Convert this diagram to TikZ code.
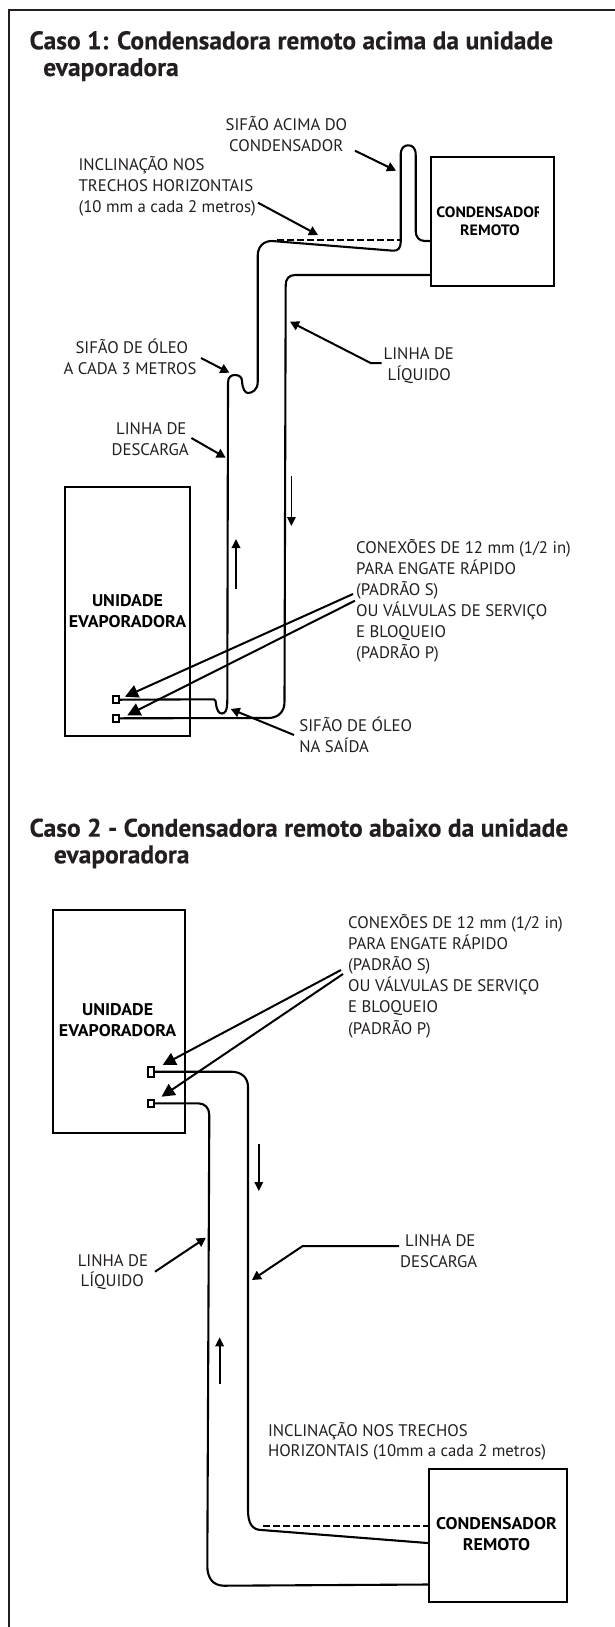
\documentclass[tikz,border=0pt]{standalone}
\usepackage{fontspec}
\setmainfont{PT Sans}
\usetikzlibrary{arrows.meta}
\definecolor{ink}{HTML}{231F20}
\newfontfamily\lblface{PT Sans}
\newfontfamily\ttlface[FakeBold=0.25]{PT Sans Bold}
\newfontfamily\unitface[FakeStretch=1.06]{PT Sans Bold}
\tikzset{
  lbl/.style={anchor=base west,inner sep=0pt,text=ink,font=\lblface\fontsize{16.75}{21}\selectfont},
  ttl/.style={anchor=base west,inner sep=0pt,text=ink,font=\ttlface\fontsize{25.5}{27}\selectfont},
  unitlbl/.style={anchor=base,inner sep=0pt,text=black,font=\unitface\fontsize{16.9}{20}\selectfont},
  unitsmall/.style={anchor=base,inner sep=0pt,text=black,font=\unitface\fontsize{15}{18}\selectfont},
  unitbox/.style={draw=black,line width=2.1pt,fill=white,inner sep=0pt,anchor=north west},
  pipe/.style={draw=black,line width=2.1pt,line cap=round,line join=round},
  dashpipe/.style={draw=black,line width=2.1pt,dash pattern=on 6.5pt off 3.5pt},
  note/.style={draw=black,line width=2pt,-{Triangle[length=9pt,width=9.5pt]}},
  bignote/.style={draw=black,line width=2pt,-{Triangle[length=13pt,width=13pt]}},
  flow/.style={draw=black,line width=1.8pt,-{Triangle[length=9pt,width=8.5pt]}},
  port/.style={draw=black,line width=2.1pt,fill=white,inner sep=0pt,minimum width=6pt,minimum height=7pt}
}
\newcommand\boxat[5]{\node[unitbox,minimum width=#4pt,minimum height=#5pt] (#1) at (#2,#3) {};}
\newcommand\txt[5][lbl]{\node[#1] (#2) at (#3,#4) {#5};}
\begin{document}
\begin{tikzpicture}[x=1pt,y=-1pt]
\useasboundingbox (0,0) rectangle (615,1627);
\fill[white] (0,0) rectangle (615,1627);
% frame
\coordinate (fa) at (9,1627); \coordinate (fb) at (9,10); \coordinate (fc) at (615,10);
\draw[draw=ink,line width=2.6pt,line join=miter] (fa) -- (fb) -- (fc);
% titles
\txt[ttl]{t1a}{29.4}{49.3}{Caso 1: Condensadora remoto acima da unidade}
\txt[ttl]{t1b}{43}{76}{evaporadora}
\txt[ttl]{t2a}{29.4}{836.7}{Caso 2 - Condensadora remoto abaixo da unidade}
\txt[ttl]{t2b}{53.7}{863.3}{evaporadora}

%%% CASE 1
\boxat{cond1}{429.5}{155.5}{123}{129.7}
\boxat{evap1}{64.2}{485.5}{125.1}{249.7}
\begin{scope}
\clip (430,190) rectangle (538,225);
\node[unitsmall] (c1a) at (490,217) {CONDENSADOR};
\end{scope}
\txt[unitsmall]{c1b}{490}{235}{REMOTO}
\txt[unitlbl]{e1a}{127.5}{606}{UNIDADE}
\txt[unitlbl]{e1b}{127.5}{627}{EVAPORADORA}

\node[port] (p1a) at (116,699.7) {};
\node[port] (p1b) at (116,718.3) {};

% pipes
\coordinate (d1) at (p1a.east);
\coordinate (d2) at (214,699.3);
\coordinate (d3) at (227.3,700);
\coordinate (d4) at (228,383);
\coordinate (d5) at (242,381);
\coordinate (d6) at (257.7,382);
\coordinate (d7) at (257.7,256);
\coordinate (d8) at (272,241);
\coordinate (d9) at (393,250.7);
\coordinate (d10) at (400.7,242);
\coordinate (d11) at (400.7,155);
\coordinate (d12) at (415.7,155);
\coordinate (d13) at (415.7,231);
\coordinate (d14) at (cond1.west|-0,241);
\path[pipe] (d1) -- (d2) .. controls (216,699.5) and (215.5,702) .. (216,704)
  .. controls (217,711) and (219,713.5) .. (222,713.5)
  .. controls (225,713.5) and (227.3,711) .. (d3)
  -- (d4) .. controls (228,377) and (231,375) .. (235,375)
  .. controls (239,375) and (242,377) .. (d5)
  .. controls (242.5,389) and (245,393) .. (248,393)
  .. controls (252,393) and (257.7,390) .. (d6)
  -- (d7) .. controls (257.7,247) and (263,241) .. (d8)
  -- (d9) .. controls (398,251) and (400.7,248) .. (d10)
  -- (d11) .. controls (400.7,148) and (404,145.3) .. (408.2,145.3)
  .. controls (412.5,145.3) and (415.7,148) .. (d12)
  -- (d13) .. controls (415.7,237) and (419,241) .. (425,241) -- (d14);
\coordinate (l1) at (p1b.east);
\coordinate (l2) at (268,718);
\coordinate (l3) at (284.5,702);
\coordinate (l4) at (285.7,285);
\coordinate (l5) at (295,275);
\coordinate (l6) at (cond1.west|-0,275);
\path[pipe] (l1) -- (l2) .. controls (278,718) and (284.5,712) .. (l3)
  -- (l4) .. controls (285.7,279) and (289,275) .. (l5) -- (l6);
\coordinate (ds1) at (277,240.3);
\coordinate (ds2) at (401.7,240.3);
\path[dashpipe] (ds1) -- (ds2);

% notes
\txt{a1}{225.5}{131}{SIFÃO ACIMA DO}
\txt{a2}{229}{151.7}{CONDENSADOR}
\coordinate (a3) at (355,150.7); \coordinate (a4) at (396,170.7);
\path[note] (a3) -- (a4);
\txt{b1}{78.4}{170.3}{INCLINAÇÃO NOS}
\txt{b2}{78.4}{191}{TRECHOS HORIZONTAIS}
\txt{b3}{78.4}{212}{(10 mm a cada 2 metros)}
\coordinate (b4) at (258,202.7); \coordinate (b5) at (318,235);
\path[note] (b4) -- (b5);
\txt{c1}{383.5}{359}{LINHA DE}
\txt{c2}{387.5}{380}{LÍQUIDO}
\coordinate (c3) at (381.6,363); \coordinate (c4) at (370.6,363); \coordinate (c5) at (290,321.7);
\path[note] (c3) -- (c4) -- (c5);
\txt{e1}{75.3}{353}{SIFÃO DE ÓLEO}
\txt{e2}{63.5}{374}{A CADA 3 METROS}
\coordinate (e3) at (201,358); \coordinate (e4) at (229.4,372.7);
\path[note] (e3) -- (e4);
\txt{f1}{116}{434}{LINHA DE}
\txt{f2}{111.4}{455}{DESCARGA}
\coordinate (f3) at (191.4,438); \coordinate (f4) at (225.7,457.7);
\path[note] (f3) -- (f4);
\coordinate (g1) at (291.4,476); \coordinate (g2) at (291.4,526);
\path[flow] (g1) -- (g2);
\coordinate (g3) at (236,589.3); \coordinate (g4) at (236,539);
\path[flow] (g3) -- (g4);
\txt{h1}{356}{553.3}{CONEXÕES DE 12 mm (1/2 in)}
\txt{h2}{356}{574}{PARA ENGATE RÁPIDO}
\txt{h3}{356}{595}{(PADRÃO S)}
\txt{h4}{356}{616}{OU VÁLVULAS DE SERVIÇO}
\txt{h5}{356}{637}{E BLOQUEIO}
\txt{h6}{356}{658}{(PADRÃO P)}
\coordinate (h7) at (353,594); \coordinate (h8) at (125,696.7);
\coordinate (h9) at (355,600.7); \coordinate (h10) at (127.3,715.3);
\path[bignote] (h7) -- (h8);
\path[bignote] (h9) -- (h10);
\txt{i1}{299.2}{731.7}{SIFÃO DE ÓLEO}
\txt{i2}{299.2}{752.7}{NA SAÍDA}
\coordinate (i3) at (294,735); \coordinate (i4) at (230.7,709);
\path[note] (i3) -- (i4);

%%% CASE 2
\boxat{evap2}{51.8}{909.3}{131.7}{222.4}
\boxat{cond2}{427.5}{1467.7}{138}{133.3}
\txt[unitlbl]{e2a}{117.6}{1015}{UNIDADE}
\txt[unitlbl]{e2b}{117.6}{1036.7}{EVAPORADORA}
\txt[unitlbl]{c2a}{496.5}{1529.3}{CONDENSADOR}
\txt[unitlbl]{c2b}{496.5}{1550}{REMOTO}
\node[port,minimum height=10pt] (p2a) at (151,1071.7) {};
\node[port] (p2b) at (151,1103.3) {};

\coordinate (m1) at (p2a.east);
\coordinate (m2) at (231,1071.7);
\coordinate (m3) at (248,1087);
\coordinate (m4) at (248,1510);
\coordinate (m5) at (261.7,1530);
\coordinate (m6) at (cond2.west|-0,1543);
\path[pipe] (m1) -- (m2) .. controls (241,1071.7) and (248,1077) .. (m3)
  -- (m4) .. controls (248,1523) and (252,1530) .. (m5) -- (m6);
\coordinate (n1) at (p2b.east);
\coordinate (n2) at (198,1103.3);
\coordinate (n3) at (209.3,1115);
\coordinate (n4) at (207.3,1566);
\coordinate (n5) at (224,1585.7);
\coordinate (n6) at (cond2.west|-0,1584.5);
\path[pipe] (n1) -- (n2) .. controls (205,1103.3) and (209.3,1108) .. (n3)
  -- (n4) .. controls (207.3,1578) and (213,1585.7) .. (n5) -- (n6);
\coordinate (ds3) at (263,1526);
\coordinate (ds4) at (cond2.west|-0,1526);
\path[dashpipe] (ds3) -- (ds4);

\txt{j1}{348}{928.3}{CONEXÕES DE 12 mm (1/2 in)}
\txt{j2}{348}{949.3}{PARA ENGATE RÁPIDO}
\txt{j3}{348}{970}{(PADRÃO S)}
\txt{j4}{348}{991.7}{OU VÁLVULAS DE SERVIÇO}
\txt{j5}{348}{1012.7}{E BLOQUEIO}
\txt{j6}{348}{1034}{(PADRÃO P)}
\coordinate (j7) at (341,970); \coordinate (j8) at (162.7,1065);
\coordinate (j9) at (343,974); \coordinate (j10) at (161.6,1096.7);
\path[bignote] (j7) -- (j8);
\path[bignote] (j9) -- (j10);
\coordinate (k1) at (258.8,1144); \coordinate (k2) at (258.8,1191);
\path[flow] (k1) -- (k2);
\coordinate (k3) at (219.6,1384.3); \coordinate (k4) at (219.6,1337.3);
\path[flow] (k3) -- (k4);
\txt{o1}{77.6}{1266}{LINHA DE}
\txt{o2}{80.4}{1286.7}{LÍQUIDO}
\coordinate (o3) at (155,1271.7); \coordinate (o4) at (205.9,1237.7);
\path[note] (o3) -- (o4);
\txt{q1}{405}{1246.7}{LINHA DE}
\txt{q2}{400}{1267.7}{DESCARGA}
\coordinate (q3) at (399,1246); \coordinate (q4) at (302.7,1246); \coordinate (q5) at (252,1280);
\path[note] (q3) -- (q4) -- (q5);
\txt{r1}{267.8}{1436}{INCLINAÇÃO NOS TRECHOS}
\txt{r2}{267.8}{1456.7}{HORIZONTAIS (10mm a cada 2 metros)}
\end{tikzpicture}
\end{document}
